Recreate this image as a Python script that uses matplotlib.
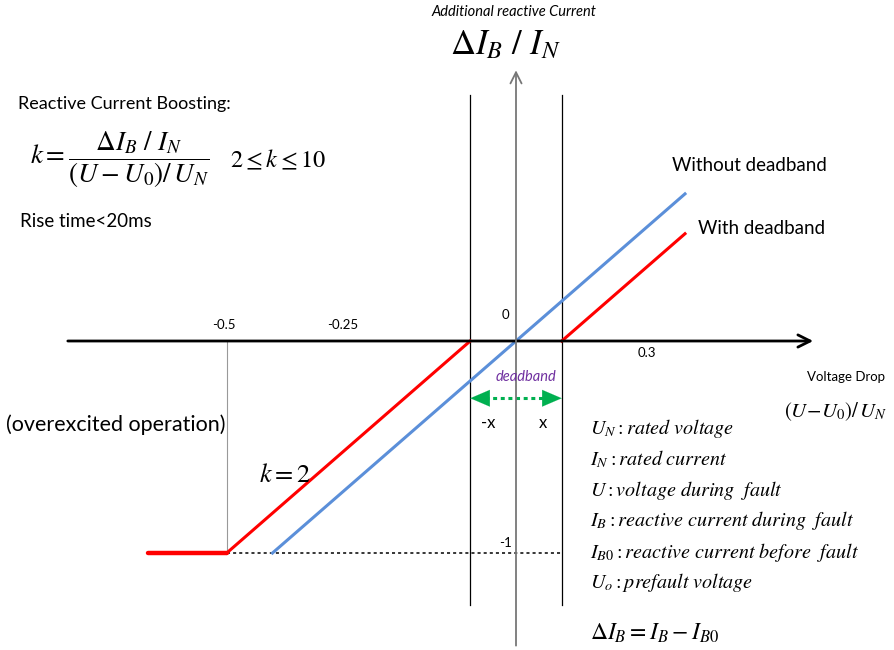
import matplotlib.pyplot as plt
import numpy as np

plt.rcParams['mathtext.fontset'] = 'stix'
plt.rcParams['font.family'] = ['Lato', 'DejaVu Sans']

# characteristic parameters
k = 2
deadband = 0.094
x_left = -0.756      # left end of the saturated branch
x_right = 0.347      # right end of the sloped lines
y_sat = -1

# axis annotation labels
tick_labels = ["-0.5", "-0.25", "0", "0.3", "-1"]
definitions = [
    r"$U_N: rated\ voltage$",
    r"$I_N: rated\ current$",
    r"$U: voltage\ during\ \ fault$",
    r"$I_B: reactive\ current\ during\ \ fault$",
    r"$I_{B0}: reactive\ current\ before\ \ fault$",
    r"$U_o: prefault\ voltage$",
]

W, H = 894, 650
fig = plt.figure(figsize=(W / 100, H / 100), dpi=100)
ax = fig.add_axes([0, 0, 1, 1])
# origin sits at pixel (516, 341); 487 px per x unit, 212 px per y unit
ax.set_xlim(-516 / 487, (W - 516) / 487)
ax.set_ylim((341 - H) / 212, 341 / 212)
ax.axis('off')


def px(x, y):
    return (x / W, 1 - y / H)


ft = ax.transAxes

# axes with open arrowheads
ax.annotate("", xy=(0.616, 0), xytext=(-0.926, 0),
            arrowprops=dict(arrowstyle='->', color='black', lw=2, mutation_scale=22))
ax.annotate("", xy=(0, 1.29), xytext=(0, -1.45),
            arrowprops=dict(arrowstyle='->', color='#777777', lw=1.3, mutation_scale=20))

# deadband boundaries
for xv in (-deadband, deadband):
    ax.plot([xv, xv], [-1.245, 1.16], color='black', lw=0.9)

kink = -deadband + y_sat / k
ax.plot([kink, kink], [0, y_sat], color='#999999', lw=0.8)
ax.plot([kink, deadband], [y_sat, y_sat], color='black', lw=1.1, ls=(0, (2, 2)))

# without deadband
xb = np.array([y_sat / k, x_right])
ax.plot(xb, k * xb, color='#5b8fd9', lw=2.2)

# with deadband
ax.plot([x_left, kink], [y_sat, y_sat], color='#ff0000', lw=3.2, solid_capstyle='round')
ax.plot([kink, -deadband], [y_sat, 0], color='#ff0000', lw=2.2)
ax.plot([deadband, x_right], [0, k * (x_right - deadband)], color='#ff0000', lw=2.2)

# deadband arrow: dotted shaft with two solid heads
arrow_y = -0.27
ax.plot([-deadband + 0.03, deadband - 0.03], [arrow_y, arrow_y], color='#00b050', lw=2.2,
        ls=(0, (1.3, 1.2)))
for tip in (-deadband, deadband):
    ax.annotate("", xy=(tip, arrow_y), xytext=(tip * 0.6, arrow_y),
                arrowprops=dict(arrowstyle='-|>,head_length=0.7,head_width=0.3',
                                color='#00b050', lw=0.1, mutation_scale=20,
                                shrinkA=0, shrinkB=0))

# texts
ax.text(*px(514, 12), "Additional reactive Current", transform=ft, ha='center', va='center',
        fontsize=10.5, style='italic')
ax.text(*px(505, 45), r"$\Delta I_B\ /\ I_N$", transform=ft, ha='center', va='center',
        fontsize=25)
ax.text(*px(18, 104), "Reactive Current Boosting:", transform=ft, ha='left', va='center',
        fontsize=13)
ax.text(*px(30, 160), r"$k=\dfrac{\Delta I_B\ /\ I_N}{\left(U-U_0\right)/\,U_N}$",
        transform=ft, ha='left', va='center', fontsize=19.5)
ax.text(*px(230, 160), r"$2\leq k\leq 10$", transform=ft, ha='left', va='center', fontsize=17.5)
ax.text(*px(20, 221), "Rise time<20ms", transform=ft, ha='left', va='center', fontsize=13.5)
ax.text(*px(672, 166), "Without deadband", transform=ft, ha='left', va='center', fontsize=13.5)
ax.text(*px(698, 229), "With deadband", transform=ft, ha='left', va='center', fontsize=13.5)

for lbl, (x, y) in zip(tick_labels, [(224, 325), (343, 325), (505, 315), (647, 353), (506, 543)]):
    ax.text(*px(x, y), lbl, transform=ft, ha='center', va='center', fontsize=9.5)

ax.text(*px(526, 377), "deadband", transform=ft, ha='center', va='center', fontsize=10.5,
        style='italic', color='#7030a0')
ax.text(*px(488, 423), "-x", transform=ft, ha='center', va='center', fontsize=12)
ax.text(*px(543, 423), "x", transform=ft, ha='center', va='center', fontsize=12)
ax.text(*px(846, 377), "Voltage Drop", transform=ft, ha='center', va='center', fontsize=9.5)
ax.text(*px(836, 412), r"$\left(U\!-\!U_0\right)/\,U_N$", transform=ft, ha='center',
        va='center', fontsize=15)
ax.text(*px(6, 425), "(overexcited operation)", transform=ft, ha='left', va='center', fontsize=15.5)
ax.text(*px(285, 474), r"$k=2$", transform=ft, ha='center', va='center', fontsize=19)

for i, d in enumerate(definitions):
    ax.text(*px(590, 428 + 31 * i), d, transform=ft, ha='left', va='center', fontsize=14.5)
ax.text(*px(590, 633), r"$\Delta I_B=I_B-I_{B0}$", transform=ft, ha='left',
        va='center', fontsize=17)

fig.savefig("out.png", dpi=100)
